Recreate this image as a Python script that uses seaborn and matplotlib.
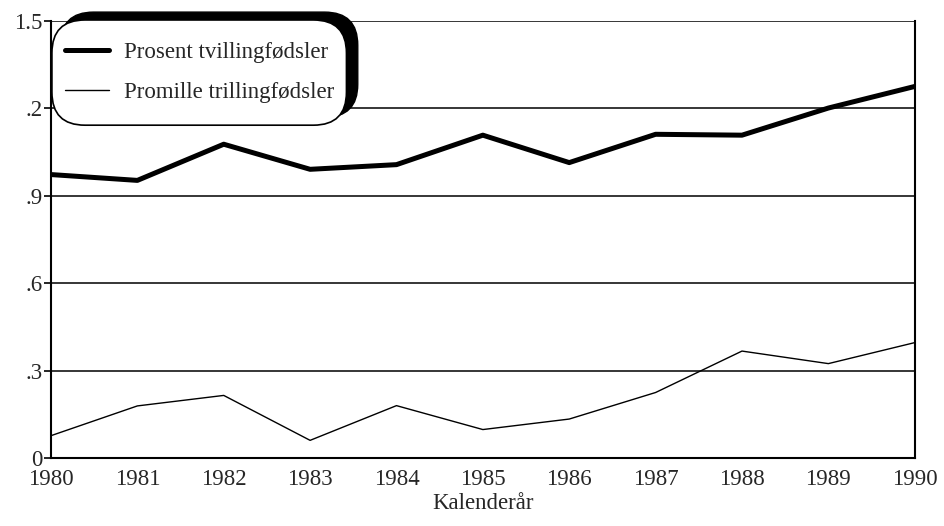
import pandas as pd
import numpy as np
import matplotlib
matplotlib.use('Agg')
import matplotlib.pyplot as plt
from matplotlib.patches import FancyBboxPatch
import seaborn as sns

# data
years = [1980, 1981, 1982, 1983, 1984, 1985, 1986, 1987, 1988, 1989, 1990]
tvilling = [0.972, 0.952, 1.076, 0.990, 1.006, 1.107, 1.013, 1.110, 1.107, 1.200, 1.274]
trilling = [0.077, 0.179, 0.215, 0.061, 0.180, 0.098, 0.134, 0.225, 0.367, 0.324, 0.396]
series_names = ["Prosent tvillingfødsler", "Promille trillingfødsler"]
y_ticks = [0, 0.3, 0.6, 0.9, 1.2, 1.5]
y_labels = ["0", ".3", ".6", ".9", ".2", "1.5"]

df = pd.DataFrame({'year': years + years,
                   'value': tvilling + trilling,
                   'serie': [series_names[0]] * len(years) + [series_names[1]] * len(years)})

sns.set_style('white')
plt.rcParams['font.family'] = ['Liberation Serif', 'DejaVu Serif']
fs = 16.5

fig = plt.figure(figsize=(9.44, 5.26), dpi=100)
ax = fig.add_axes([0.054, 0.129, 0.915, 0.832])

sns.lineplot(data=df, x='year', y='value', hue='serie', size='serie',
             palette=['black', 'black'], sizes=[3.6, 1.0], ax=ax, legend=False)

ax.set_xlim(1980, 1990)
ax.set_ylim(0, 1.5)
ax.set_xticks(years)
ax.set_xticklabels([str(y) for y in years], fontsize=fs)
ax.set_yticks(y_ticks)
ax.set_yticklabels(y_labels, fontsize=fs)
ax.tick_params(axis='x', length=0, pad=8)
ax.tick_params(axis='y', length=5, width=1.2, color='black', direction='out', pad=1, left=True)
ax.set_xlabel('Kalenderår', fontsize=fs, labelpad=2)
ax.set_ylabel('')

ax.grid(True, axis='y', color='black', linewidth=1.1)
ax.set_axisbelow(True)
for s in ['left', 'right', 'bottom']:
    ax.spines[s].set_visible(True)
    ax.spines[s].set_color('black')
    ax.spines[s].set_linewidth(1.5)
ax.spines['top'].set_visible(False)

# legend box with rounded corners and a black shadow up/right
shadow = FancyBboxPatch((0.064, 0.777), 0.315, 0.2, boxstyle='round,pad=0,rounding_size=0.035',
                        transform=fig.transFigure, facecolor='black', edgecolor='black',
                        mutation_aspect=944 / 526, zorder=5)
box = FancyBboxPatch((0.055, 0.762), 0.312, 0.2, boxstyle='round,pad=0,rounding_size=0.035',
                     transform=fig.transFigure, facecolor='white', edgecolor='black', linewidth=1.2,
                     mutation_aspect=944 / 526, zorder=6)
fig.patches.extend([shadow, box])

handles = [plt.Line2D([], [], color='black', lw=3.6), plt.Line2D([], [], color='black', lw=1.0)]
leg = fig.legend(handles, series_names, loc='upper left', bbox_to_anchor=(0.069, 0.92),
                 frameon=False, fontsize=fs, borderpad=0, borderaxespad=0,
                 handlelength=1.9, handletextpad=0.65, labelspacing=0.82)
leg.set_zorder(10)

plt.savefig('out.png', dpi=100)
